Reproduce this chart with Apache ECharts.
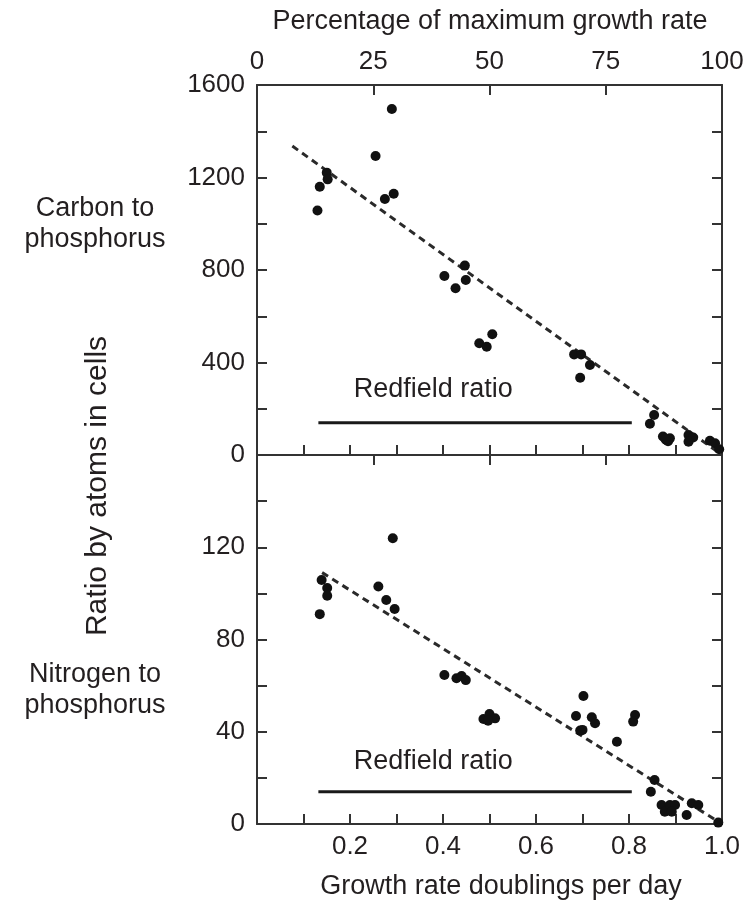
<!DOCTYPE html>
<html>
<head>
<meta charset="utf-8">
<script src="https://cdn.jsdelivr.net/npm/echarts@6/dist/echarts.min.js"></script>
<style>
html,body{margin:0;padding:0;background:#fff;}
#chart{width:749px;height:906px;}
</style>
</head>
<body>
<div id="chart"></div>
<script>
// Carbon : phosphorus panel
const cpX = [0.290,0.255,0.150,0.152,0.135,0.130,0.275,0.294,0.403,0.427,0.447,0.449,0.478,0.494,0.506,0.682,0.697,0.716,0.695,0.845,0.854,0.873,0.880,0.884,0.888,0.878,0.928,0.938,0.928,0.974,0.985,0.994];
const cpY = [1496,1293,1221,1192,1160,1057,1107,1130,774,721,819,757,483,468,522,435,435,389,334,135,173,80,65,60,72,70,86,76,57,62,51,25];
const cpTrend = [[0.076,1336],[1.0,0]];
const cpRedfield = [[0.132,140],[0.806,140]];

// Nitrogen : phosphorus panel
const npX = [0.292,0.139,0.151,0.151,0.135,0.261,0.278,0.296,0.403,0.429,0.440,0.449,0.487,0.500,0.512,0.497,0.702,0.686,0.695,0.700,0.720,0.727,0.774,0.813,0.809,0.855,0.847,0.870,0.877,0.888,0.899,0.892,0.924,0.935,0.949,0.992];
const npY = [123.9,105.8,102.3,99,91,103,97.1,93.2,64.6,63.2,64.2,62.4,45.5,47.7,45.8,44.8,55.5,46.8,40.5,40.8,46.3,43.7,35.7,47.3,44.4,19.1,14,8.2,5.3,8.2,8.2,5.3,3.9,9,8.2,0.6];
const npTrend = [[0.14,109],[1.0,0]];
const npRedfield = [[0.132,14],[0.806,14]];

// Axis ticks / labels
const growthTicks = [0.2,0.4,0.6,0.8,1.0];
const cpLabels = [0,400,800,1200,1600];
const npLabels = [0,40,80,120];
const pctTicks = [0,25,50,75,100];

const TXT = '#231f20';
const FONT = '"Liberation Sans", Arial, Helvetica, sans-serif';
const FS = 26;
const TFS = 27;

const chart = echarts.init(document.getElementById('chart'));

function zip(xs, ys){ return xs.map((x,i)=>[x, ys[i]]); }

const axLine = () => ({show:true, onZero:false, lineStyle:{color:'#333', width:2}});
const tick = () => ({show:true, inside:true, length:10, lineStyle:{color:'#333', width:2}});
const lbl = {color:TXT, fontSize:FS, fontFamily:FONT};

const option = {
  animation:false,
  backgroundColor:'#fff',
  grid:[
    {left:257, top:85, width:465, height:370},
    {left:257, top:455, width:465, height:369}
  ],
  xAxis:[
    {gridIndex:0, type:'value', position:'bottom', min:0, max:1, interval:0.1,
     axisLine:axLine(), axisTick:tick(), axisLabel:{show:false}, splitLine:{show:false}},
    {gridIndex:0, type:'value', position:'top', min:0, max:100, interval:25,
     axisLine:axLine(), axisTick:tick(),
     axisLabel:Object.assign({margin:10, formatter:v=>pctTicks.includes(v)?String(v):''}, lbl),
     splitLine:{show:false}},
    {gridIndex:1, type:'value', position:'bottom', min:0, max:1, interval:0.1,
     axisLine:axLine(), axisTick:tick(),
     axisLabel:Object.assign({margin:10, showMinLabel:true, showMaxLabel:true,
       formatter:v=>{const r=Math.round(v*10)/10; return growthTicks.some(t=>Math.abs(t-r)<1e-9)?r.toFixed(1):'';}}, lbl),
     splitLine:{show:false}},
    {gridIndex:1, type:'value', position:'top', min:0, max:100, interval:25,
     axisLine:axLine(), axisTick:tick(), axisLabel:{show:false}, splitLine:{show:false}}
  ],
  yAxis:[
    {gridIndex:0, type:'value', position:'left', min:0, max:1600, interval:200,
     axisLine:axLine(), axisTick:tick(),
     axisLabel:Object.assign({margin:12, formatter:v=>cpLabels.includes(v)?String(v):''}, lbl),
     splitLine:{show:false}},
    {gridIndex:0, type:'value', position:'right', min:0, max:1600, interval:200,
     axisLine:axLine(), axisTick:tick(), axisLabel:{show:false}, splitLine:{show:false}},
    {gridIndex:1, type:'value', position:'left', min:0, max:160, interval:20,
     axisLine:axLine(), axisTick:tick(),
     axisLabel:Object.assign({margin:12, formatter:v=>npLabels.includes(v)?String(v):''}, lbl),
     splitLine:{show:false}},
    {gridIndex:1, type:'value', position:'right', min:0, max:160, interval:20,
     axisLine:axLine(), axisTick:tick(), axisLabel:{show:false}, splitLine:{show:false}}
  ],
  series:[
    {type:'line', xAxisIndex:0, yAxisIndex:0, data:cpTrend, symbol:'none',
     lineStyle:{color:'#2a2a2a', width:3, type:[7,5]}, z:2},
    {type:'line', xAxisIndex:0, yAxisIndex:0, data:cpRedfield, symbol:'none',
     lineStyle:{color:'#1a1a1a', width:3}, z:2},
    {type:'scatter', xAxisIndex:0, yAxisIndex:0, data:zip(cpX,cpY), symbolSize:10,
     itemStyle:{color:'#111', opacity:1}, z:3},
    {type:'scatter', xAxisIndex:0, yAxisIndex:0, data:[[0.379,281]], symbolSize:0,
     itemStyle:{opacity:1},
     label:{show:true, position:'inside', formatter:'Redfield ratio', color:TXT, fontSize:TFS, fontFamily:FONT}, silent:true},

    {type:'line', xAxisIndex:2, yAxisIndex:2, data:npTrend, symbol:'none',
     lineStyle:{color:'#2a2a2a', width:3, type:[7,5]}, z:2},
    {type:'line', xAxisIndex:2, yAxisIndex:2, data:npRedfield, symbol:'none',
     lineStyle:{color:'#1a1a1a', width:3}, z:2},
    {type:'scatter', xAxisIndex:2, yAxisIndex:2, data:zip(npX,npY), symbolSize:10,
     itemStyle:{color:'#111', opacity:1}, z:3},
    {type:'scatter', xAxisIndex:2, yAxisIndex:2, data:[[0.379,27]], symbolSize:0,
     itemStyle:{opacity:1},
     label:{show:true, position:'inside', formatter:'Redfield ratio', color:TXT, fontSize:TFS, fontFamily:FONT}, silent:true}
  ],
  graphic:[
    {type:'text', x:490, y:22, style:{text:'Percentage of maximum growth rate', textAlign:'center', textVerticalAlign:'middle', fill:TXT, font:TFS+'px '+FONT}},
    {type:'text', x:501, y:887, style:{text:'Growth rate doublings per day', textAlign:'center', textVerticalAlign:'middle', fill:TXT, font:TFS+'px '+FONT}},
    {type:'text', x:95, y:224, style:{text:'Carbon to\nphosphorus', textAlign:'center', textVerticalAlign:'middle', lineHeight:31, fill:TXT, font:TFS+'px '+FONT}},
    {type:'text', x:95, y:690, style:{text:'Nitrogen to\nphosphorus', textAlign:'center', textVerticalAlign:'middle', lineHeight:31, fill:TXT, font:TFS+'px '+FONT}},
    {type:'text', x:98, y:486, rotation:Math.PI/2, style:{text:'Ratio by atoms in cells', textAlign:'center', textVerticalAlign:'middle', fill:TXT, font:'30px '+FONT}}
  ]
};
chart.setOption(option);
</script>
</body>
</html>
